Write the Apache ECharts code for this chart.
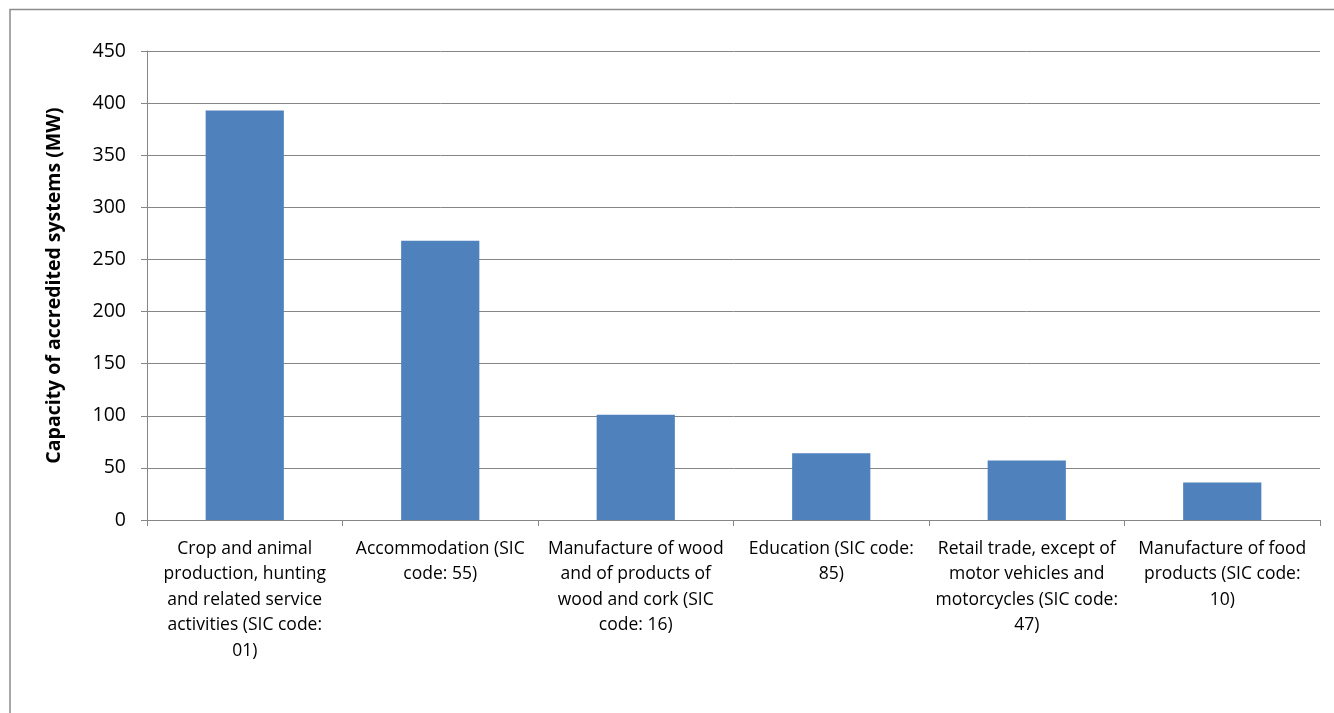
<!DOCTYPE html>
<html>
<head>
<meta charset="utf-8">
<script src="https://cdn.jsdelivr.net/npm/echarts@6/dist/echarts.min.js"></script>
<style>
  html, body { margin: 0; padding: 0; background: #fff; }
  #chart { width: 1334px; height: 713px; }
</style>
</head>
<body>
<div id="chart"></div>
<script>
// Industry sectors (SIC codes) and accredited capacity in MW
const categories = [
  'Crop and animal\nproduction, hunting\nand related service\nactivities (SIC code:\n01)',
  'Accommodation (SIC\ncode: 55)',
  'Manufacture of wood\nand of products of\nwood and cork (SIC\ncode: 16)',
  'Education (SIC code:\n85)',
  'Retail trade, except of\nmotor vehicles and\nmotorcycles (SIC code:\n47)',
  'Manufacture of food\nproducts (SIC code:\n10)'
];
const capacityMW = [393, 268, 101, 64, 57, 36];
const yAxisTitle = 'Capacity of accredited systems (MW)';

const FONT = '"Open Sans", Lato, sans-serif';
const chart = echarts.init(document.getElementById('chart'));
chart.setOption({
  animation: false,
  backgroundColor: '#ffffff',
  graphic: [{
    type: 'rect',
    shape: { x: 10, y: 9.5, width: 1400, height: 800 },
    style: { fill: 'none', stroke: '#8c8c8c', lineWidth: 1.5 },
    silent: true
  }],
  grid: { left: 147, right: 14, top: 51, bottom: 193 },
  xAxis: {
    type: 'category',
    data: categories,
    boundaryGap: true,
    axisLine: { show: true, lineStyle: { color: '#868686', width: 1 } },
    axisTick: { show: true, length: 6, lineStyle: { color: '#868686' } },
    axisLabel: {
      interval: 0,
      margin: 16,
      color: '#000',
      fontFamily: FONT,
      fontSize: 17.5,
      lineHeight: 25.5,
      align: 'center'
    }
  },
  yAxis: {
    type: 'value',
    min: 0,
    max: 450,
    interval: 50,
    name: yAxisTitle,
    nameLocation: 'middle',
    nameGap: 83,
    nameRotate: 90,
    nameTextStyle: { color: '#000', fontFamily: FONT, fontSize: 19.5, fontWeight: 'bold' },
    axisLine: { show: true, lineStyle: { color: '#868686', width: 1 } },
    axisTick: { show: true, length: 6, lineStyle: { color: '#868686' } },
    axisLabel: { color: '#000', fontFamily: FONT, fontSize: 19.5, margin: 21 },
    splitLine: { show: true, lineStyle: { color: '#868686', width: 1 } }
  },
  series: [{
    type: 'bar',
    data: capacityMW,
    barWidth: '40%',
    itemStyle: { color: '#4F81BD' }
  }]
});
</script>
</body>
</html>
